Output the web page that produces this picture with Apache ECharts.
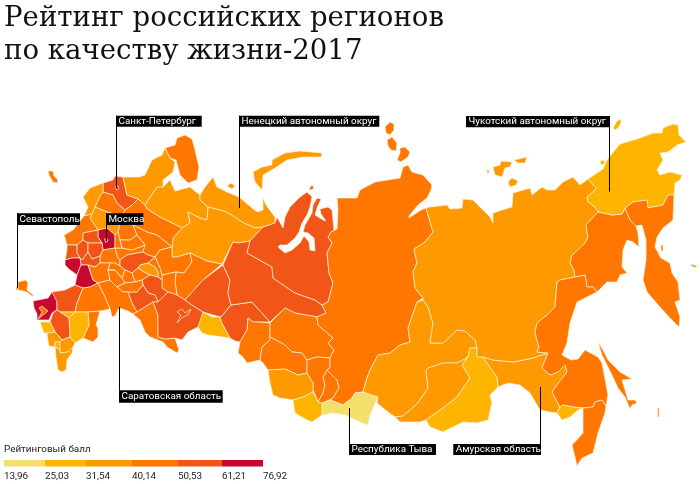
<!DOCTYPE html>
<html>
<head>
<meta charset="utf-8">
<title>Рейтинг российских регионов</title>
<script src="https://cdn.jsdelivr.net/npm/echarts@6/dist/echarts.min.js"></script>
<style>
  html, body { margin: 0; padding: 0; background: #fff; }
  #chart { width: 700px; height: 484px; }
</style>
</head>
<body>
<div id="chart"></div>
<script>
// класс рейтинга
const ratingBreaks = [13.96, 25.03, 31.54, 40.14, 50.53, 61.21, 76.92];
const ratingColors = ['#f4de6c', '#ffb400', '#ff9900', '#ff7700', '#f25518', '#c8072f'];

const regionNames = [
  'Калининградская область', 'Ленинградская область', 'Санкт-Петербург', 'Мурманская область', 'Карелия',
  'Архангельская область', 'Ненецкий автономный округ', 'Коми', 'Вологодская область', 'Новгородская область',
  'Псковская область', 'Тверская область', 'Смоленская область', 'Московская область', 'Москва',
  'Калужская область', 'Брянская область', 'Орловская область', 'Тульская область', 'Рязанская область',
  'Липецкая область', 'Курская область', 'Белгородская область', 'Воронежская область', 'Владимирская область',
  'Ярославская область', 'Костромская область', 'Ивановская область', 'Нижегородская область', 'Кировская область',
  'Пермский край', 'Удмуртия', 'Марий Эл', 'Чувашия', 'Мордовия',
  'Татарстан', 'Пензенская область', 'Тамбовская область', 'Ульяновская область', 'Самарская область',
  'Саратовская область', 'Оренбургская область', 'Башкортостан', 'Уфа', 'Свердловская область',
  'Челябинская область', 'Курганская область', 'Ханты-Мансийский АО', 'Ямало-Ненецкий АО', 'Омская область',
  'Томская область', 'Новосибирская область', 'Кемеровская область', 'Алтайский край', 'Республика Алтай',
  'Хакасия', 'Красноярский край', 'Республика Тыва', 'Иркутская область', 'Бурятия',
  'Забайкальский край', 'Амурская область', 'Якутия', 'Магаданская область', 'Чукотский автономный округ',
  'Камчатский край', 'Хабаровский край', 'Еврейская АО', 'Приморский край', 'Сахалинская область',
  'Республика Крым', 'Севастополь', 'Краснодарский край', 'Адыгея', 'Ростовская область',
  'Волгоградская область', 'Астраханская область', 'Калмыкия', 'Ставропольский край', 'Карачаево-Черкесия',
  'Кабардино-Балкария', 'Северная Осетия', 'Ингушетия', 'Чечня', 'Дагестан'
];
const regionScores = [
  44.2, 56.8, 73.5, 45.6, 36.1,
  38.4, 34.7, 39.2, 43.3, 41.5,
  35.2, 38.1, 42.4, 72.6, 76.92,
  55.3, 51.4, 52.7, 58.0, 44.6,
  56.2, 63.1, 66.5, 48.7, 45.9,
  47.2, 43.1, 42.8, 58.6, 41.9,
  46.3, 42.2, 41.1, 38.9, 42.7,
  59.4, 53.6, 44.1, 45.2, 49.8,
  46.9, 47.5, 58.1, 57.2, 56.6,
  29.5, 53.2, 55.7, 54.4, 45.3,
  42.3, 47.8, 41.6, 36.4, 28.3,
  40.9, 44.8, 13.96, 37.7, 36.6,
  29.1, 35.8, 34.2, 41.4, 28.9,
  42.1, 46.1, 27.3, 44.4, 43.7,
  47.1, 44.0, 68.3, 45.1, 54.9,
  46.7, 43.9, 28.6, 55.1, 26.8,
  29.9, 37.2, 30.1, 38.3, 36.9
];

// контуры регионов в пикселях картинки, x,y подряд; порядок как в regionNames
const regionOutlines = [
  [[48,171,53,171,54,176,58,180,57,183,53,182,49,175]],
  [[103,183,113,180,115,176,123,177,127,195,138,199,132,205,125,210,117,203,113,195,103,192]],
  [[115.5,187,118,186,119,188.5,116.5,190]],
  [[165,148,175,145,177,138,185,135,192,139,195,150,199,167,197,180,188,183,180,175,176,160,170,158]],
  [[123,177,139,177,145,175,152,160,162,155,165,148,170,158,175,162,173,172,163,180,163,187,157,187,145,205,138,199,127,195]],
  [[145,205,157,187,163,187,170,180,175,191,190,187,200,195,200,200,208,207,207,220,200,218,188,212,190,223,182,228,160,217,147,209],
   [253,172,262,167,272,165,272,160,285,153,300,151,322,153,321,157,303,157,287,160,275,168,263,175,262,190,255,182]],
  [[200,195,205,187,213,177,217,187,227,192,239,197,257,212,263,210,263,198,266,205,275,217,275,223,263,227,255,228,242,222,227,212,208,207,200,200],
   [227,186,231,183,235,186,232,189]],
  [[182,228,190,223,188,212,200,218,207,220,208,207,227,212,242,222,255,228,263,227,250,241,238,243,233,242,222,264,207,261,190,253,177,257,172,257,172,247,173,238]],
  [[125,210,132,205,138,199,145,205,147,209,160,217,182,228,173,238,172,247,157,235,147,232,133,225,122,216]],
  [[95,207,100,196,103,192,113,195,117,203,125,210,122,216,107,212]],
  [[83,197,90,188,103,183,103,192,100,196,95,207,92,214,84,216,88,207]],
  [[92,214,95,207,107,212,122,216,118,232,115,235,107,228,98,230,90,218]],
  [[84,216,92,214,90,218,98,230,83,233,83,240,77,245,67,245,65,238,64,235,73,230]],
  [[98,230,107,228,115,235,115,248,103,250,102,243,98,237]],
  [[104.5,239,107,238.5,108,241,105.5,242.5]],
  [[83,233,98,230,98,237,102,243,88,243,83,240]],
  [[67,245,77,245,77,253,80,258,72,258,65,260,67,250]],
  [[77,245,83,240,88,243,88,252,82,260,80,258,77,253]],
  [[88,243,102,243,103,250,100,256,95,258,92,259,88,252]],
  [[100,256,103,250,115,248,118,258,120,260,120,266,115,263,110,263,100,263]],
  [[80,258,82,260,88,252,92,259,95,258,100,256,100,263,95,267,88,265,81,265]],
  [[65,260,72,258,80,258,81,265,77,275,73,272,70,270,65,265]],
  [[81,265,88,265,93,280,98,283,90,287,83,288,75,285,77,275]],
  [[88,265,95,267,100,263,110,263,108,270,110,280,98,283,93,280]],
  [[122,248,132,250,145,245,143,252,137,253,127,255,120,260,118,258,115,248]],
  [[122,216,133,225,137,235,130,240,120,240,118,232]],
  [[133,225,147,232,157,235,172,247,160,250,155,257,148,255,143,252,145,245,137,235]],
  [[120,240,130,240,137,235,145,245,132,250,122,248],
   [115,235,118,232,120,240,122,248,115,248]],
  [[120,260,127,255,137,253,143,252,148,255,155,257,148,263,140,265,138,268,132,273,125,270,120,266]],
  [[160,250,172,247,172,257,177,257,190,253,192,262,184,273,176,272,162,275,160,268,155,257]],
  [[190,253,207,261,222,264,223,265,203,280,185,300,177,295,175,282,176,272,184,273,192,262]],
  [[162,275,176,272,175,282,177,295,168,292,162,288,162,280]],
  [[148,263,155,257,160,268,162,275,162,280,158,277,158,272,155,267]],
  [[140,265,148,263,155,267,158,272,158,277,150,275,144,272,138,268]],
  [[138,268,144,272,150,275,142,280,135,282,132,273]],
  [[142,280,150,275,158,277,162,280,162,288,168,292,158,302,155,295,148,293,143,285]],
  [[128,292,137,292,143,285,148,293,155,295,158,302,153,302,137,312,132,303]],
  [[108,270,115,270,122,278,125,283,117,287,110,280],
   [110,263,115,263,120,266,125,270,122,278,115,270,108,270]],
  [[125,270,132,273,135,282,125,283,122,278]],
  [[125,283,135,282,142,280,143,285,137,292,128,292,123,292,117,287]],
  [[98,283,110,280,117,287,123,292,128,292,132,303,137,312,133,314,128,311,119,308,115,316,112,317,110,309,105,297]],
  [[137,312,153,302,158,315,158,337,165,339,175,338,179,350,177,353,167,347,163,342,150,337,145,332,140,320,133,314]],
  [[153,302,158,302,168,292,177,295,185,300,192,305,203,312,202,318,198,327,188,332,182,340,175,338,165,339,158,337,158,315]],
  [[177,312,182,309,185,313,191,309,188,315,183,317,177,323,181,315]],
  [[223,265,230,280,228,293,231,305,222,316,220,317,203,312,192,305,185,300,203,280]],
  [[198,327,203,312,212,317,220,317,222,323,230,338,208,335,202,333]],
  [[222,316,231,305,252,302,270,322,258,322,253,322,248,318,247,330,240,342,235,341,230,338,222,323,220,317]],
  [[238,243,250,241,247,253,272,267,273,278,295,293,315,300,322,305,326,313,317,317,295,313,285,308,270,322,252,302,231,305,228,293,230,280,223,265,233,242]],
  [[277,217,283,228,285,217,290,207,300,197,307,192,312,197,310,207,307,215,302,223,299,232,295,238,287,245,280,245,278,247,285,253,292,250,300,243,304,236,309,242,310,250,315,251,314,238,308,233,303,232,305,225,312,213,313,205,317,198,321,199,317,208,315,215,323,220,326,221,321,214,320,209,328,207,332,210,334,230,331,232,328,237,332,243,327,253,329,273,333,283,328,302,322,305,315,300,295,293,273,278,272,267,247,253,250,241,263,227,275,223],
   [309,189,312,185,314,188,311,190]],
  [[238,353,240,342,247,330,248,318,253,322,258,322,270,323,270,337,270,340,262,347,260,360,247,363,243,357]],
  [[270,323,285,308,295,313,317,317,318,325,333,338,328,343,334,350,330,358,317,357,307,360,302,353,292,352,285,345,270,337]],
  [[270,337,285,345,292,352,302,353,307,360,307,373,298,375,285,369,268,370,263,363,260,360,262,347,270,340]],
  [[307,360,317,357,330,358,330,368,327,370,323,377,325,385,323,393,318,402,313,390,313,383,307,373]],
  [[268,370,285,369,298,375,307,373,313,383,313,392,303,397,293,400,280,398,273,395,270,383]],
  [[293,400,303,397,313,392,318,402,323,403,322,415,312,422,307,420,295,413]],
  [[327,370,337,380,339,388,333,398,323,403,318,402,323,393,325,385,323,377]],
  [[337,198,346,198,357,198,360,190,375,182,400,178,403,167,408,165,412,172,423,175,432,185,431,190,427,198,418,205,409,216,409,218,421,210,426,208,433,232,425,242,414,249,417,263,413,272,415,288,423,298,417,302,408,328,410,342,400,345,390,353,378,355,370,370,367,378,363,392,355,393,352,398,343,405,330,400,333,398,339,388,337,380,327,370,330,368,330,358,334,350,328,343,333,338,318,325,317,317,326,313,322,305,328,302,333,283,329,273,327,253,332,243,328,237,331,232,337,229,338,210],
   [385,127,390,122,394,124,394,130,390,135,386,133],
   [387,140,392,137,397,143,396,151,391,150,388,146],
   [400,148,405,147,410,152,408,157,401,162,397,160,400,153]],
  [[322,403,330,400,343,405,352,398,355,393,363,392,378,397,370,415,368,425,362,423,345,415,333,413,322,415]],
  [[417,302,423,300,428,307,433,323,430,343,443,343,457,330,465,331,475,340,477,348,470,348,468,357,463,360,457,363,443,363,428,368,426,370,428,388,418,403,403,416,395,417,388,412,377,403,378,397,363,392,367,378,370,370,378,355,390,353,400,345,410,342,408,328]],
  [[426,370,428,368,443,363,457,363,463,360,468,357,462,365,470,378,457,397,443,408,426,420,420,422,400,422,395,417,403,416,418,403,428,388]],
  [[470,348,477,348,477,357,483,357,497,377,498,387,490,395,492,403,488,420,477,423,463,422,443,432,430,427,426,420,443,408,457,397,470,378,462,365,468,357]],
  [[483,357,493,360,513,362,533,358,548,353,542,368,550,375,558,372,565,365,567,372,557,385,552,392,560,407,557,413,550,412,540,410,530,393,520,385,508,383,498,387,497,377]],
  [[426,208,430,207,447,205,450,209,462,208,463,199,473,200,478,205,490,217,493,223,493,213,502,210,512,207,513,193,530,188,532,195,542,187,547,190,555,190,563,182,573,177,580,185,588,179,596,188,593,192,587,197,588,202,595,207,598,212,586,225,588,237,585,243,578,250,572,255,570,263,574,270,575,277,560,280,557,282,555,307,547,315,537,323,535,333,539,347,537,352,548,353,533,358,513,362,493,360,483,357,477,357,477,348,475,340,465,331,457,330,443,343,430,343,433,323,428,307,423,300,423,298,415,288,413,272,417,263,414,249,425,242,433,232],
   [487,170,489,170,489,173,487,173],
   [493,167,500,165,501,161,512,162,510,167,505,168,502,177,495,175],
   [514,160,527,157,525,163,518,163],
   [508,182,512,178,518,181,516,185,510,187]],
  [[598,212,603,213,612,215,622,214,625,208,630,220,636,226,638,233,639,247,633,242,627,240,623,250,622,267,627,273,620,275,617,282,607,282,597,292,593,287,587,287,585,275,575,277,574,270,570,263,572,255,578,250,585,243,588,237,586,225]],
  [[588,179,603,169,607,160,615,150,620,144,637,139,653,133,662,133,663,128,673,124,678,125,679,135,686,142,677,145,668,152,660,153,663,160,657,170,660,175,670,172,682,175,680,180,675,183,674,195,668,195,663,205,648,208,647,200,633,202,625,208,622,214,612,215,603,213,598,212,595,207,588,202,587,197,593,192,596,188],
   [613,128,617,121,621,119,621,123,618,128,615,130],
   [600,161,604,160,605,164,601,165]],
  [[625,208,633,202,647,200,648,208,663,205,668,195,674,195,673,220,663,228,657,237,655,247,661,258,670,263,672,273,678,282,680,300,675,302,680,317,679,327,670,318,660,307,647,292,643,280,646,260,646,240,642,225,636,226,630,220],
   [661,245,663,245,663,251,661,251],
   [691,264,697,266,695,267.5,691,265.5]],
  [[575,277,585,275,587,287,593,287,597,292,577,302,570,323,567,343,562,355,571,360,578,359,585,350,598,357,602,363,608,395,606,406,602,400,595,402,593,407,583,408,573,407,563,405,560,407,552,392,557,385,567,372,565,365,558,372,550,375,542,368,548,353,537,352,539,347,535,333,537,323,547,315,555,307,557,282,560,280]],
  [[557,413,560,407,563,405,573,407,583,408,578,410,570,417,562,420]],
  [[606,406,605,413,598,433,593,453,582,458,577,466,575,457,572,445,583,433,583,417,583,408,593,407,595,402,602,400]],
  [[598,342,603,350,608,360,620,372,632,379,622,380,625,390,628,400,635,400,637,403,632,405,630,409,625,397,618,388,612,375,602,355],
   [657.5,408,659,408,659,417,657.5,417]],
  [[18,282,26,280,28,283,27,290,33,295,33,297,27,292,23,291,18,290,18,287]],
  [[16,287,18,287,18,290,16,290]],
  [[33,301,48,298,52,292,58,291,57,302,57,310,52,313,49,320,37,320,37,314,34,308]],
  [[39,308,42,306,48,311,42,316,38,319,37,318,42,312]],
  [[52,292,58,291,65,290,75,285,83,288,77,303,75,312,67,312,60,312,57,310,57,302]],
  [[83,288,90,287,98,283,105,297,110,309,100,311,88,312,75,312,77,303]],
  [[88,312,100,311,96,325,98,328,98,337,93,342,83,338,89,325]],
  [[75,312,88,312,89,325,83,338,75,343,70,337,69,318]],
  [[50,322,53,313,57,310,60,312,63,314,69,318,70,337,62,340,55,332]],
  [[60,312,67,312,75,312,69,318,63,314]],
  [[40,322,50,322,55,332,47,333,44,333]],
  [[47,333,55,332,62,340,60,342,55,342,55,347,49,346,48,341]],
  [[55,342,60,342,60,350,55,347]],
  [[60,342,62,340,70,337,75,343,73,347,68,352,60,353,60,350]],
  [[60,353,68,352,73,347,72,353,67,360,66,370,62,372,58,370,56,357,55,347,60,350]]
];

// подписи-выноски: linkY - конец линии
const callouts = [
  { text: 'Санкт-Петербург', x: 116, y: 115.7, w: 85.7, h: 11, lineX: 116.5, linkY: 188 },
  { text: 'Севастополь', x: 17, y: 213.3, w: 63, h: 11.7, lineX: 17.5, linkY: 288 },
  { text: 'Москва', x: 106, y: 213.3, w: 37.3, h: 11.7, lineX: 106.5, linkY: 241 },
  { text: 'Ненецкий автономный округ', x: 239, y: 115.7, w: 140.3, h: 11, lineX: 239.5, linkY: 208 },
  { text: 'Чукотский автономный округ', x: 466, y: 116, w: 144, h: 11.3, lineX: 609.5, linkY: 191.7 },
  { text: 'Саратовская область', x: 119, y: 390.3, w: 103.7, h: 12.4, lineX: 119.5, linkY: 307 },
  { text: 'Республика Тыва', x: 349, y: 444, w: 87, h: 11, lineX: 349.5, linkY: 408 },
  { text: 'Амурская область', x: 453.3, y: 444, w: 87.7, h: 11, lineX: 540.5, linkY: 387 }
];
const legendEdges = [4, 45, 86, 132, 178, 222, 263];
const smallFont = '9.9px Roboto';

const features = regionNames.map((name, i) => ({
  type: 'Feature',
  properties: { name: name },
  geometry: {
    type: 'MultiPolygon',
    coordinates: regionOutlines[i].map(ring => {
      const pts = [];
      for (let k = 0; k < ring.length; k += 2) pts.push([ring[k], ring[k + 1]]);
      pts.push(pts[0]);
      return [pts];
    })
  }
}));
echarts.registerMap('russia', { type: 'FeatureCollection', features: features });

const graphic = [];
callouts.forEach(c => {
  const y1 = Math.min(c.y, c.linkY);
  const y2 = Math.max(c.y, c.linkY);
  graphic.push({ type: 'line', z: 50, shape: { x1: c.lineX, y1: y1, x2: c.lineX, y2: y2 }, style: { stroke: '#000', lineWidth: 1 } });
  graphic.push({ type: 'rect', z: 51, shape: { x: c.x, y: c.y, width: c.w, height: c.h }, style: { fill: '#000' } });
  graphic.push({ type: 'text', z: 52, style: { text: c.text, x: c.x + 2.5, y: c.y + c.h / 2, fill: '#fff', font: smallFont, textVerticalAlign: 'middle' } });
});
graphic.push({ type: 'text', style: { text: 'Рейтинговый балл', x: 4, y: 449.5, fill: '#222', font: smallFont, textVerticalAlign: 'middle' } });
ratingColors.forEach((color, i) => {
  graphic.push({ type: 'rect', shape: { x: legendEdges[i], y: 460, width: legendEdges[i + 1] - legendEdges[i], height: 6.5 }, style: { fill: color } });
});
ratingBreaks.forEach((v, i) => {
  graphic.push({ type: 'text', style: { text: v.toFixed(2).replace('.', ','), x: legendEdges[i], y: 476.5, fill: '#222', font: smallFont, textVerticalAlign: 'middle' } });
});

const chart = echarts.init(document.getElementById('chart'));
chart.setOption({
  animation: false,
  title: {
    text: 'Рейтинг российских регионов\nпо качеству жизни-2017',
    left: -1,
    top: -3,
    textStyle: { fontFamily: 'DejaVu Serif', fontSize: 27.6, fontWeight: 'normal', color: '#111', lineHeight: 33 }
  },
  visualMap: {
    show: false,
    type: 'piecewise',
    seriesIndex: 0,
    pieces: ratingColors.map((color, i) => ({ gte: ratingBreaks[i], lt: i === 5 ? 100 : ratingBreaks[i + 1], color: color }))
  },
  series: [{
    type: 'map',
    map: 'russia',
    left: 0,
    top: 0,
    width: 700,
    height: 484,
    projection: { project: p => p, unproject: p => p },
    boundingCoords: [[0, 0], [700, 484]],
    silent: true,
    roam: false,
    label: { show: false },
    itemStyle: { borderColor: '#fff0d8', borderWidth: 0.7 },
    data: regionNames.map((name, i) => ({ name: name, value: regionScores[i] }))
  }],
  graphic: graphic
});
</script>
</body>
</html>
